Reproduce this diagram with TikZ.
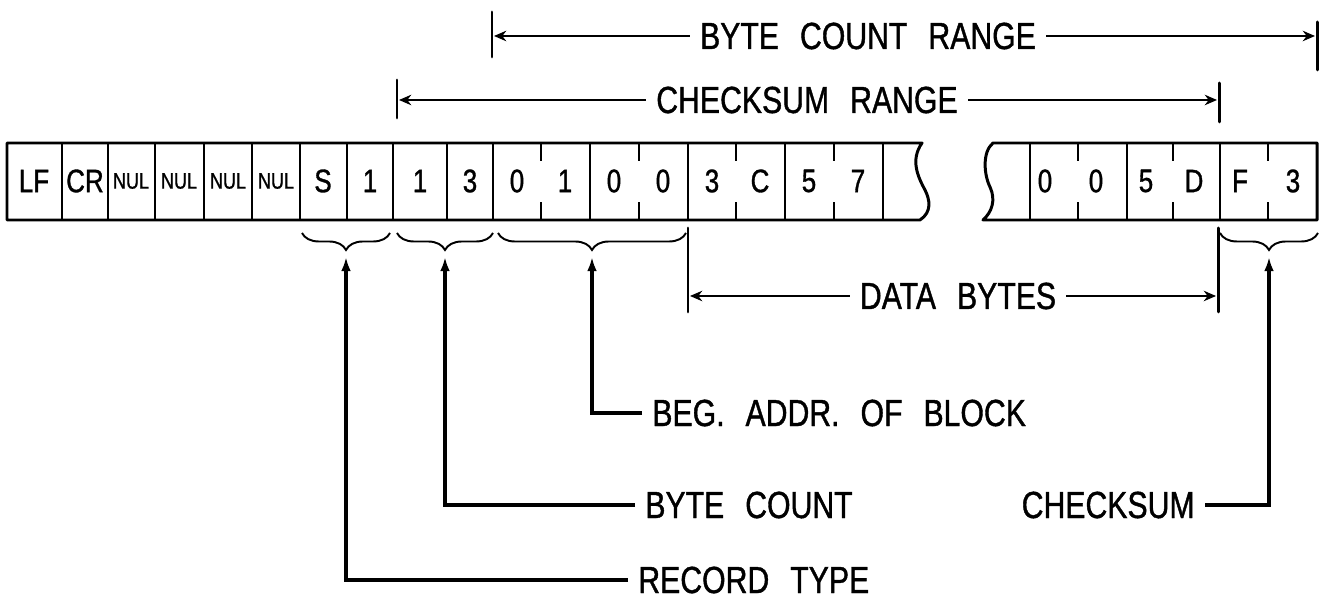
\documentclass[tikz,border=0pt]{standalone}
\usepackage{fontspec}
\usetikzlibrary{arrows.meta,decorations.pathreplacing}
\newfontfamily\hexfont[FakeStretch=0.8,FakeBold=1,WordSpace=2.5]{Liberation Sans}
\newcommand{\lbf}{\hexfont\fontsize{21.5}{25}\selectfont}
\newcommand{\celf}{\hexfont\fontsize{18.5}{21}\selectfont}
\newcommand{\nulf}{\hexfont\fontsize{12.8}{14}\selectfont}
\tikzset{
  lbl/.style={font=\lbf,inner xsep=0.2cm,inner ysep=0pt},
  cel/.style={font=\celf,inner sep=0pt},
  strip/.style={line width=1.7pt,line join=round},
  sep/.style={line width=1.4pt},
  bar/.style={line width=1.7pt,line cap=round},
  rng/.style={{Stealth[length=7pt,width=6pt]}-,line width=0.9pt},
  ptr/.style={-{Latex[length=8pt,width=5.5pt]},line width=1.8pt},
  brc/.style={decorate,decoration={brace,mirror,amplitude=0.34cm},line width=1.1pt},
}

\begin{document}
\begin{tikzpicture}[x=0.02cm,y=-0.02cm]
\useasboundingbox (0,0) rectangle (1326,614);
% record strip
\draw[strip] (922,143) -- (7,143) -- (7,220) -- (920,220)
  .. controls (932,212) and (930,200) .. (925,190)
  .. controls (918,177) and (910,160) .. cycle;
\draw[strip] (993,143) -- (1317,143) -- (1317,220) -- (983,220)
  .. controls (992,212) and (996,200) .. (990,187)
  .. controls (984,175) and (982,152) .. cycle;
\foreach \x in {62,108,155,204,252,300,347,393,447,493,590,688,785,883,1030,1127,1220}
  \draw[sep] (\x,143) -- (\x,220);
\foreach \x in {541,639,736,834,1078,1173,1268}
  {\draw[sep] (\x,143) -- ++(0,18); \draw[sep] (\x,220) -- ++(0,-18);}
\foreach \x/\t [count=\i] in {34/LF,85/CR,323/S,370/1,420/1,470/3,517/0,565/1,614/0,663/0,712/3,760/C,809/5,858/7,1045/0,1096/0,1146/5,1194/D,1240/F,1293/3}
  \node[cel] (c\i) at (\x,181) {\t};
\foreach \x [count=\i] in {131,179,228,276}
  \node[cel,font=\nulf] (n\i) at (\x,181) {NUL};

% ranges
\node[lbl] (bcr) at (868,36) {BYTE COUNT RANGE};
\node[lbl] (csr) at (807,100) {CHECKSUM RANGE};
\node[lbl] (dat) at (958,296) {DATA BYTES};
\draw[bar] (492,12) -- (492,57);
\draw[bar] (1317,22) -- (1317,70);
\draw[bar] (397,80) -- (397,118);
\draw[bar] (1219,83) -- (1219,122);
\draw[bar] (688,228) -- (688,312);
\draw[bar] (1218,228) -- (1218,312);
\coordinate (bcrL) at (494,36);
\coordinate (bcrR) at (1315,36);
\coordinate (csrL) at (399,100);
\coordinate (csrR) at (1217,100);
\coordinate (datL) at (690,296);
\coordinate (datR) at (1216,296);
\draw[rng] (bcrL) -- (bcr.west);
\draw[rng] (bcrR) -- (bcr.east);
\draw[rng] (csrL) -- (csr.west);
\draw[rng] (csrR) -- (csr.east);
\draw[rng] (datL) -- (dat.west);
\draw[rng] (datR) -- (dat.east);

% fields
\draw[brc] (302,233) -- (390,233);
\draw[brc] (397,233) -- (493,233);
\draw[brc] (498,233) -- (686,233);
\draw[brc] (1220,233) -- (1318,233);
\coordinate (t1) at (346,257);
\coordinate (t2) at (445,257);
\coordinate (t3) at (592,257);
\coordinate (t4) at (1269,257);
\node[lbl,anchor=west] (rec) at (628,580) {RECORD TYPE};
\node[lbl,anchor=west] (bc) at (635,505) {BYTE COUNT};
\node[lbl,anchor=west] (beg) at (642,413) {BEG. ADDR. OF BLOCK};
\node[lbl,anchor=east] (ck) at (1205,505) {CHECKSUM};
\draw[ptr] (rec.west) -| (t1);
\draw[ptr] (bc.west) -| (t2);
\draw[ptr] (beg.west) -| (t3);
\draw[ptr] (ck.east) -| (t4);
\end{tikzpicture}
\end{document}
